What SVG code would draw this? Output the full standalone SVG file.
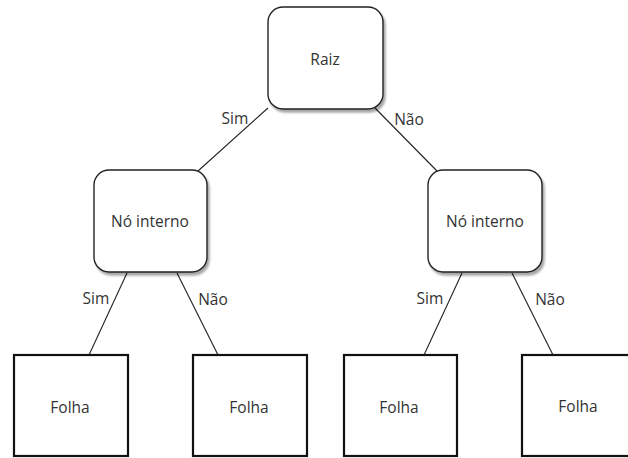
<svg xmlns="http://www.w3.org/2000/svg" width="628" height="458" viewBox="0 0 628 458">
<defs>
<filter id="sh" x="-10%" y="-10%" width="130%" height="130%">
<feGaussianBlur in="SourceAlpha" stdDeviation="1.2"/>
<feOffset dx="2" dy="3" result="b"/>
<feComponentTransfer><feFuncA type="linear" slope="0.35"/></feComponentTransfer>
<feMerge><feMergeNode/><feMergeNode in="SourceGraphic"/></feMerge>
</filter>
</defs>
<style>
.rr{fill:#fff;stroke:#222;stroke-width:1.4;filter:url(#sh)}
.lf{fill:#fff;stroke:#111;stroke-width:2.2}
.t{font-family:"Open Sans","Noto Sans","DejaVu Sans",sans-serif;font-size:15.5px;fill:#333;text-anchor:middle;dominant-baseline:central}
.ln{stroke:#222;stroke-width:1.1;fill:none}
</style>
<rect width="628" height="458" fill="#fff"/>
<g id="connectors">
<line class="ln" x1="268" y1="108" x2="198" y2="171"/>
<line class="ln" x1="375" y1="108" x2="437" y2="171"/>
<line class="ln" x1="127" y1="273" x2="89" y2="355"/>
<line class="ln" x1="177" y1="273" x2="218" y2="355"/>
<line class="ln" x1="462" y1="273" x2="424" y2="355"/>
<line class="ln" x1="512" y1="273" x2="553" y2="355"/>
<text class="t" x="235" y="118">Sim</text>
<text class="t" x="409" y="119">Não</text>
<text class="t" x="96" y="298">Sim</text>
<text class="t" x="213" y="299">Não</text>
<text class="t" x="430" y="298">Sim</text>
<text class="t" x="550" y="299">Não</text>
</g>
<g id="raiz">
<rect class="rr" x="268" y="7" width="115" height="102" rx="15"/>
<text class="t" x="325" y="59">Raiz</text>
</g>
<g id="interno-esq">
<rect class="rr" x="94" y="170" width="113" height="102" rx="15"/>
<text class="t" x="150" y="221">Nó interno</text>
</g>
<g id="interno-dir">
<rect class="rr" x="428" y="170" width="114" height="102" rx="15"/>
<text class="t" x="485" y="221">Nó interno</text>
</g>
<g id="folha1">
<rect class="lf" x="14" y="355" width="114" height="101"/>
<text class="t" x="70" y="407">Folha</text>
</g>
<g id="folha2">
<rect class="lf" x="193" y="355" width="114" height="101"/>
<text class="t" x="249" y="407">Folha</text>
</g>
<g id="folha3">
<rect class="lf" x="344" y="355" width="113" height="101"/>
<text class="t" x="399" y="407">Folha</text>
</g>
<g id="folha4">
<rect class="lf" x="522" y="355" width="114" height="101"/>
<text class="t" x="578" y="406">Folha</text>
</g>
</svg>
